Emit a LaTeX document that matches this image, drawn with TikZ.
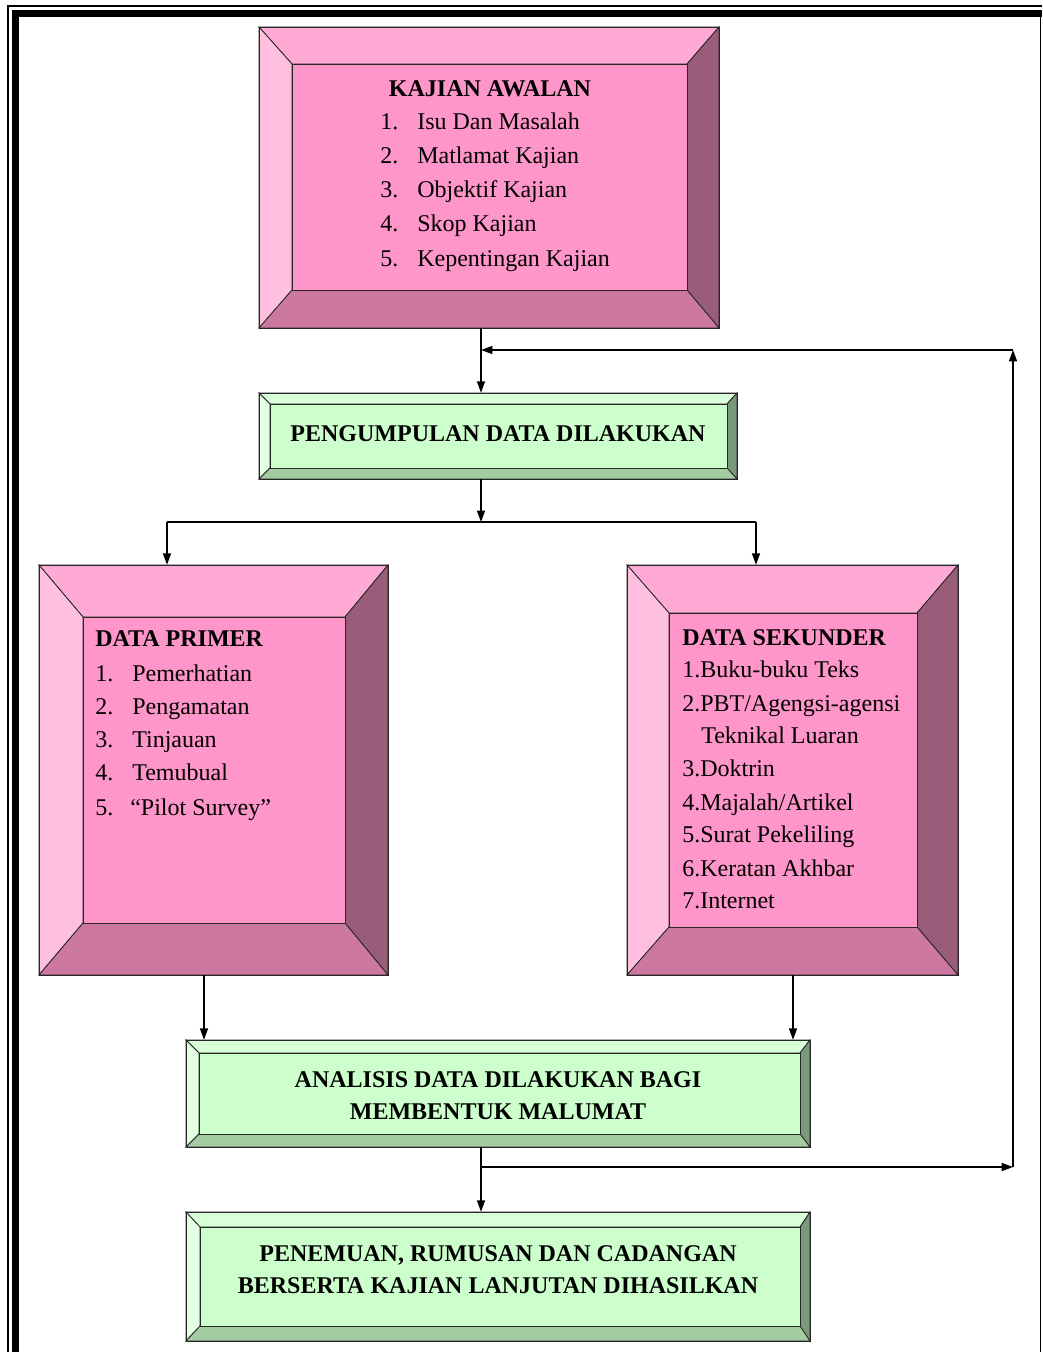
\documentclass[tikz,border=0pt]{standalone}
\usepackage{fontspec}
\setmainfont{Liberation Serif}
\usetikzlibrary{arrows.meta,fit}
\definecolor{pkT}{HTML}{FFAAD4}
\definecolor{pkL}{HTML}{FFC0DF}
\definecolor{pkF}{HTML}{FF96C9}
\definecolor{pkB}{HTML}{CC78A1}
\definecolor{pkR}{HTML}{995C79}
\definecolor{grT}{HTML}{D9FFD9}
\definecolor{grL}{HTML}{E3FFE3}
\definecolor{grF}{HTML}{CCFFCC}
\definecolor{grB}{HTML}{A3CCA3}
\definecolor{grR}{HTML}{7A997A}
\newcommand\usepink{\colorlet{bvT}{pkT}\colorlet{bvL}{pkL}\colorlet{bvF}{pkF}\colorlet{bvB}{pkB}\colorlet{bvR}{pkR}}
\newcommand\usegreen{\colorlet{bvT}{grT}\colorlet{bvL}{grL}\colorlet{bvF}{grF}\colorlet{bvB}{grB}\colorlet{bvR}{grR}}
% #1 name, #2 x1, #3 y1, #4 x2, #5 y2, #6 left, #7 top, #8 right, #9 bottom
\newcommand\bevelbox[9]{%
  \filldraw[bevline,fill=bvT] (#2,#3) -- (#4,#3) -- ({#4-#8},{#3+#7}) -- ({#2+#6},{#3+#7}) -- cycle;
  \filldraw[bevline,fill=bvL] (#2,#3) -- ({#2+#6},{#3+#7}) -- ({#2+#6},{#5-#9}) -- (#2,#5) -- cycle;
  \filldraw[bevline,fill=bvR] (#4,#3) -- (#4,#5) -- ({#4-#8},{#5-#9}) -- ({#4-#8},{#3+#7}) -- cycle;
  \filldraw[bevline,fill=bvB] (#2,#5) -- ({#2+#6},{#5-#9}) -- ({#4-#8},{#5-#9}) -- (#4,#5) -- cycle;
  \filldraw[bevline,fill=bvF] ({#2+#6},{#3+#7}) rectangle ({#4-#8},{#5-#9});
  \draw[bevline] (#2,#3) rectangle (#4,#5);
  \coordinate (#1nw) at (#2,#3);
  \coordinate (#1se) at (#4,#5);
  \node[fit=(#1nw)(#1se), inner sep=0pt] (#1) {};
}
\begin{document}
\begin{tikzpicture}[x=0.75pt,y=-0.75pt,
  bevline/.style={draw=black!85,line width=0.6pt},
  txt/.style={inner sep=0pt,font=\fontsize{18}{22}\selectfont},
  hd/.style={inner sep=0pt,font=\fontsize{18}{22}\selectfont\bfseries},
  arr/.style={draw,line width=0.9pt,-{Triangle[length=8.5pt,width=6pt]}},
  conn/.style={draw,line width=0.9pt}]
\useasboundingbox (0,0) rectangle (1042,1352);
\fill[white] (0,0) rectangle (1042,1352);
% page border
\draw[line width=0.9pt] (8,1352) -- (8,6) -- (1042,6);
\fill[black] (12,10) rectangle (1042,17);
\fill[black] (12,10) rectangle (19,1352);
\draw[line width=0.9pt] (1040.5,17) -- (1040.5,1352);

% boxes
\usepink
\bevelbox{b1}{259}{27}{719}{328}{33}{37}{32}{38}
\bevelbox{b3}{39}{565}{388}{975}{44}{52}{43}{52}
\bevelbox{b4}{627}{565}{958}{975}{42}{48}{41}{48}
\usegreen
\bevelbox{b2}{259}{393}{737}{479}{11}{11}{10}{11}
\bevelbox{b5}{186}{1040}{810}{1147}{13}{13}{10}{13}
\bevelbox{b6}{186}{1212}{810}{1341}{14}{15}{10}{15}

% texts box 1
\node[hd,anchor=base] (k0) at (490,97) {KAJIAN AWALAN};
\node[txt,anchor=base west] (k1n) at (380,130) {1.};
\node[txt,anchor=base west] (k1) at (417,130) {Isu Dan Masalah};
\node[txt,anchor=base west] (k2n) at (380,164) {2.};
\node[txt,anchor=base west] (k2) at (417,164) {Matlamat Kajian};
\node[txt,anchor=base west] (k3n) at (380,197) {3.};
\node[txt,anchor=base west] (k3) at (417,197) {Objektif Kajian};
\node[txt,anchor=base west] (k4n) at (380,231) {4.};
\node[txt,anchor=base west] (k4) at (417,231) {Skop Kajian};
\node[txt,anchor=base west] (k5n) at (380,266) {5.};
\node[txt,anchor=base west] (k5) at (417,266) {Kepentingan Kajian};

% box 2
\node[hd,anchor=base] (p0) at (498,441) {PENGUMPULAN DATA DILAKUKAN};

% data primer
\node[hd,anchor=base west] (d0) at (95,646) {DATA PRIMER};
\node[txt,anchor=base west] (d1n) at (95,681) {1.};
\node[txt,anchor=base west] (d1) at (132,681) {Pemerhatian};
\node[txt,anchor=base west] (d2n) at (95,714) {2.};
\node[txt,anchor=base west] (d2) at (132,714) {Pengamatan};
\node[txt,anchor=base west] (d3n) at (95,747) {3.};
\node[txt,anchor=base west] (d3) at (132,747) {Tinjauan};
\node[txt,anchor=base west] (d4n) at (95,780) {4.};
\node[txt,anchor=base west] (d4) at (132,780) {Temubual};
\node[txt,anchor=base west] (d5n) at (95,815) {5.};
\node[txt,anchor=base west] (d5) at (130,815) {“Pilot Survey”};

% data sekunder
\node[hd,anchor=base west] (s0) at (682,645) {DATA SEKUNDER};
\node[txt,anchor=base west] (s1) at (682,677) {1.Buku-buku Teks};
\node[txt,anchor=base west] (s2) at (682,711) {2.PBT/Agengsi-agensi};
\node[txt,anchor=base west] (s2b) at (701,743) {Teknikal Luaran};
\node[txt,anchor=base west] (s3) at (682,776) {3.Doktrin};
\node[txt,anchor=base west] (s4) at (682,810) {4.Majalah/Artikel};
\node[txt,anchor=base west] (s5) at (682,842) {5.Surat Pekeliling};
\node[txt,anchor=base west] (s6) at (682,876) {6.Keratan Akhbar};
\node[txt,anchor=base west] (s7) at (682,908) {7.Internet};

% box 5
\node[hd,anchor=base] (a1) at (498,1087) {ANALISIS DATA DILAKUKAN BAGI};
\node[hd,anchor=base] (a2) at (498,1119) {MEMBENTUK MALUMAT};

% box 6
\node[hd,anchor=base] (f1) at (498,1261) {PENEMUAN, RUMUSAN DAN CADANGAN};
\node[hd,anchor=base] (f2) at (498,1293) {BERSERTA KAJIAN LANJUTAN DIHASILKAN};

% junctions
\coordinate (j1) at (481,350);
\coordinate (jr) at (1013,350);
\coordinate (j2) at (481,522);
\coordinate (jl) at (167,522);
\coordinate (jrr) at (756,522);
\coordinate (pL) at (204,975);
\coordinate (pR) at (793,975);
\coordinate (j3) at (481,1167);
\coordinate (jb) at (1013,1167);

% connectors
\draw[arr] (b1.south -| j1) -- (b2.north -| j1);
\draw[arr] (jr) -- (j1);
\draw[arr] (jb) -- (jr);
\draw[arr] (b2.south -| j2) -- (j2);
\draw[conn] (jl) -- (jrr);
\draw[arr] (jl) -- (b3.north -| jl);
\draw[arr] (jrr) -- (b4.north -| jrr);
\draw[arr] (b3.south -| pL) -- (b5.north -| pL);
\draw[arr] (b4.south -| pR) -- (b5.north -| pR);
\draw[arr] (b5.south -| j3) -- (b6.north -| j3);
\draw[arr] (j3) -- (jb);
\end{tikzpicture}
\end{document}
